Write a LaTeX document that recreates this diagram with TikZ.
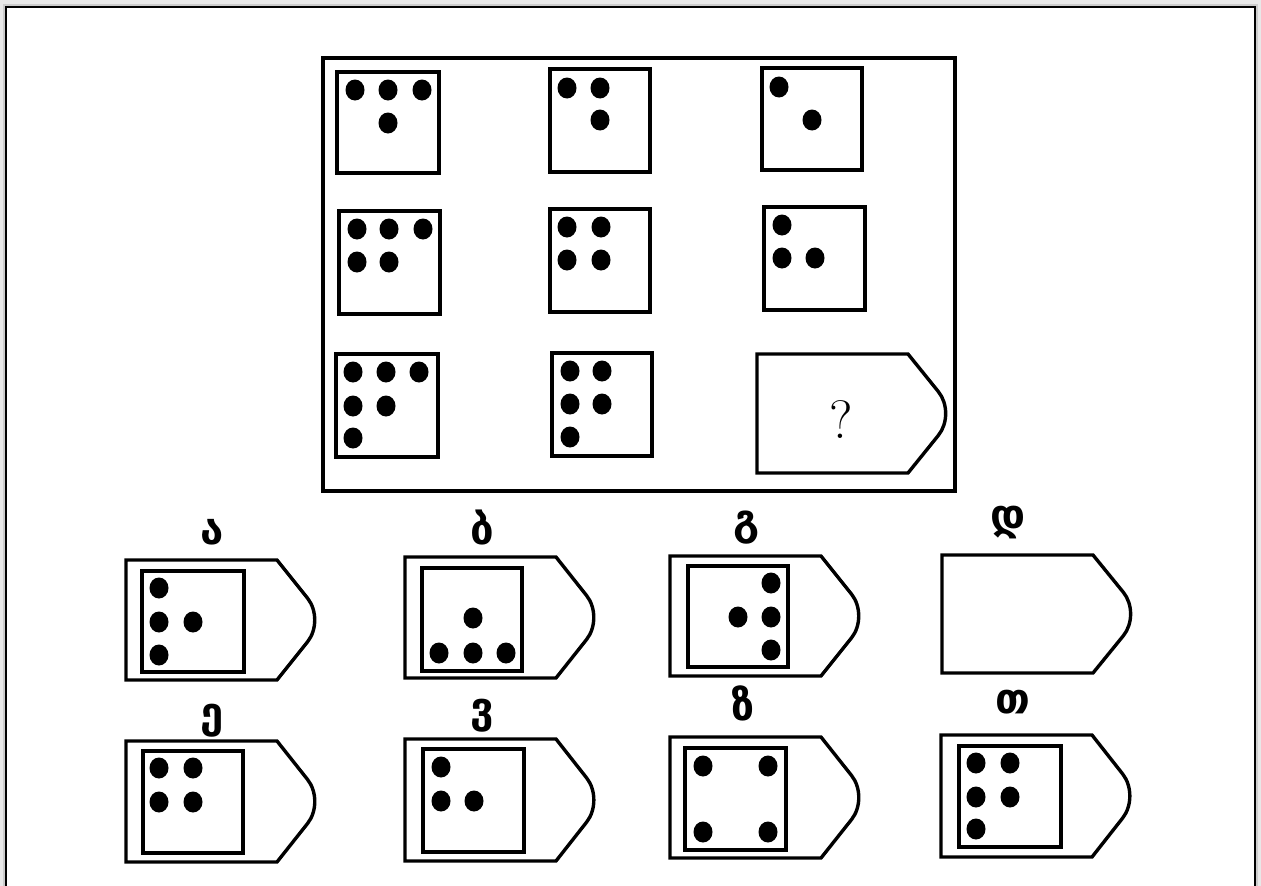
\documentclass[tikz,border=0pt]{standalone}
\usepackage{fontspec}
\newfontfamily\geofont{DejaVu Sans}
\usetikzlibrary{calc}
\tikzset{
  frame/.style={line width=3.4pt, line join=miter},
  lbl/.style={inner sep=0pt, font=\geofont\bfseries\fontsize{42}{46}\selectfont},
  qmark/.style={inner sep=0pt, font=\fontsize{54}{60}\selectfont},
}
\newcommand\tagshape[4]{%
  \coordinate (#1tr) at ({#2+151},#3);
  \coordinate (#1br) at ({#2+151},#4);
  \coordinate (#1tip) at ({#2+199},{(#3+#4)/2});
  \coordinate (#1a) at ($(#1tip)!28pt!(#1tr)$);
  \coordinate (#1b) at ($(#1tip)!28pt!(#1br)$);
  \draw[frame] (#2,#3) -- (#1tr) -- (#1a) .. controls ($(#1a)!0.55!(#1tip)$) and ($(#1b)!0.55!(#1tip)$) .. (#1b) -- (#1br) -- (#2,#4) -- cycle;
}
\newcommand\pips[1]{\foreach \px/\py in {#1} {\fill (\px,\py) ellipse (9.5 and 10.5);}}
\begin{document}
\begin{tikzpicture}[x=1pt,y=-1pt]
\useasboundingbox (0,0) rectangle (1261,886);
% page frame with shadow
\fill[gray!18] (0,0) rectangle (1261,886);
\fill[gray!40] (3,4) rectangle (1258,890);
\fill[white] (6,7) rectangle (1255,890);
\draw[line width=1.8pt] (6,890) -- (6,7) -- (1255,7) -- (1255,890);
% main frame
\draw[frame] (323,58) rectangle (955,491);
% grid row 1
\draw[frame] (337,72) rectangle (439,173);
\pips{355/90,388/90,422/90,388/123}
\draw[frame] (550,69) rectangle (650,172);
\pips{567/88,600/88,600/120}
\draw[frame] (762,68) rectangle (862,170);
\pips{779/87,812/120}
% grid row 2
\draw[frame] (339,211) rectangle (440,314);
\pips{357/229,389/229,423/229,357/262,389/262}
\draw[frame] (550,209) rectangle (650,312);
\pips{567/227,601/227,567/260,601/260}
\draw[frame] (764,207) rectangle (865,310);
\pips{782/225,782/258,815/258}
% grid row 3
\draw[frame] (336,354) rectangle (438,457);
\pips{353/372,386/372,419/372,353/406,386/406,353/438}
\draw[frame] (552,353) rectangle (652,456);
\pips{570/371,602/371,570/404,602/404,570/437}
\tagshape{q}{757}{354}{473}
\node[qmark] (qm) at (841,420) {?};
% options row 1
\node[lbl] (la) at (212,532) {ა};
\tagshape{a}{126}{560}{680}
\draw[frame] (142,571) rectangle (244,672);
\pips{159/588,159/622,193/622,159/655}
\node[lbl] (lb) at (482,528) {ბ};
\tagshape{b}{405}{557}{678}
\draw[frame] (422,568) rectangle (522,671);
\pips{473/618,439/653,473/653,506/653}
\node[lbl] (lg) at (747,528) {გ};
\tagshape{g}{670}{556}{676}
\draw[frame] (688,566) rectangle (788,667);
\pips{771/583,738/617,771/617,771/650}
\node[lbl] (ld) at (1008,523) {დ};
\tagshape{d}{942}{555}{673}
% options row 2
\node[lbl] (le) at (212,721) {ე};
\tagshape{e}{126}{741}{862}
\draw[frame] (143,751) rectangle (243,853);
\pips{159/768,193/768,159/802,193/802}
\node[lbl] (lv) at (482,716) {ვ};
\tagshape{v}{405}{739}{861}
\draw[frame] (423,749) rectangle (524,852);
\pips{441/767,441/801,474/801}
\node[lbl] (lz) at (743,703) {ზ};
\tagshape{z}{670}{737}{858}
\draw[frame] (685,748) rectangle (786,850);
\pips{703/766,768/766,703/832,768/832}
\node[lbl] (lt) at (1013,702) {თ};
\tagshape{t}{941}{735}{857}
\draw[frame] (959,746) rectangle (1061,847);
\pips{976/763,1010/763,976/797,1010/797,976/829}
\end{tikzpicture}
\end{document}
